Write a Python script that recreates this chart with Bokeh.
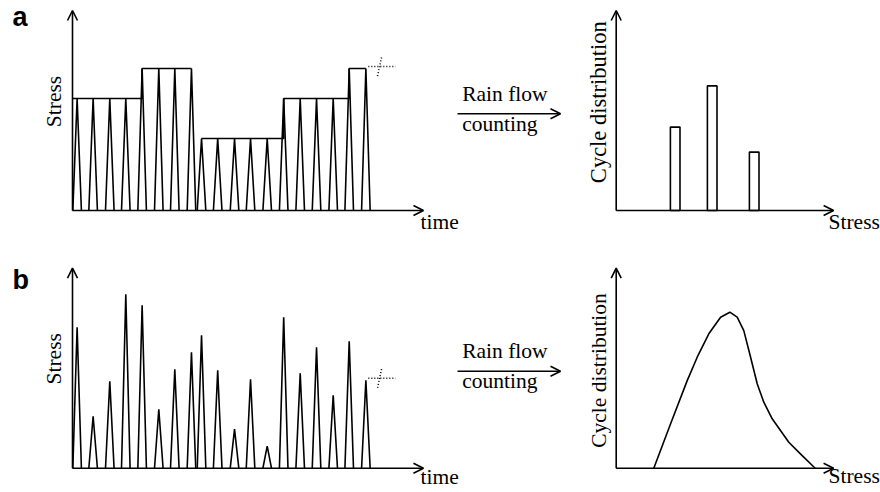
import math
from bokeh.plotting import figure
from bokeh.models import Range1d, Arrow, OpenHead, Label
from bokeh.embed import file_html
from bokeh.resources import INLINE

# ---------------- data ----------------
# time of each loading peak (same instants in a and b)
spike_time = [0.28, 1.25, 2.26, 3.23, 4.22, 5.23, 6.20, 7.21, 7.82, 8.80,
              9.82, 10.79, 11.80, 12.80, 13.80, 14.79, 15.80, 16.77, 17.78]
# a: block loading (constant amplitude blocks)
stress_a = [5.6, 5.6, 5.6, 5.6, 7.1, 7.1, 7.1, 7.1, 3.6, 3.6,
            3.6, 3.6, 3.6, 5.6, 5.6, 5.6, 5.6, 7.1, 7.1]
# b: random loading
stress_b = [7.05, 2.6, 4.35, 8.7, 8.15, 2.95, 4.95, 5.8, 6.65, 4.9,
            1.95, 4.45, 1.1, 7.55, 4.75, 6.05, 3.65, 6.35, 4.4]
# a: resulting cycle histogram
hist_stress = [2.95, 4.8, 6.9]
hist_cycles = [4.17, 6.23, 2.92]
# b: resulting cycle distribution
dist_stress = [1.88, 2.72, 3.55, 4.05, 4.63, 5.22, 5.68, 6.05, 6.38, 6.72,
               7.05, 7.38, 7.8, 8.63, 9.3, 9.95]
dist_cycles = [0.0, 2.22, 4.38, 5.55, 6.72, 7.55, 7.8, 7.55, 6.88, 5.55,
               4.22, 3.3, 2.47, 1.3, 0.63, 0.0]

# ---------------- layout ----------------
W, H = 880, 492
SERIF = "Liberation Serif"
FS = 21.5
LW = 1.6

p = figure(width=W, height=H, x_range=Range1d(0, W), y_range=Range1d(H, 0),
           output_backend="svg", toolbar_location=None,
           x_axis_location=None, y_axis_location=None, min_border=0)
p.outline_line_color = None
p.grid.visible = False
p.background_fill_color = "white"
p.border_fill_color = "white"


def xr(ox, sx):
    return Range1d(-ox / sx, (W - ox) / sx)


def yr(oy, sy):
    return Range1d(-(H - oy) / sy, oy / sy)


# origins (pixels) and scales (pixels per unit) of the four small diagrams
p.extra_x_ranges = {"ta": xr(72, 16.5), "ra": xr(615.7, 20)}
p.extra_y_ranges = {"sa": yr(210, 20), "sb": yr(467.7, 20)}

T_AXIS = 21.27
S_AXIS = 10.0
R_AXIS = 10.87
HW = 0.26  # half width of a load spike


def head():
    return OpenHead(size=10, line_width=LW, line_color="black")


def axes(xname, yname, xlen, ylen):
    for xe, ye in ((xlen, 0), (0, ylen)):
        p.add_layout(Arrow(end=head(), x_start=0, y_start=0, x_end=xe, y_end=ye,
                           x_range_name=xname, y_range_name=yname,
                           line_width=LW, line_color="black"))


def spikes(levels, yname):
    xs = [[t - HW, t, t + HW] for t in spike_time]
    ys = [[0, h, 0] for h in levels]
    p.multi_line(xs, ys, line_color="black", line_width=LW,
                 x_range_name="ta", y_range_name=yname)


def marker(yname, t, h):
    p.line([t + 0.15, t + 1.8], [h + 0.1, h + 0.1], line_dash="1 2",
           line_color="black", line_width=1.5, x_range_name="ta", y_range_name=yname)
    p.line([t + 0.95, t + 0.82, t + 0.69], [h + 0.55, h + 0.05, h - 0.45], line_dash="1 2",
           line_color="black", line_width=1.5, x_range_name="ta", y_range_name=yname)


def lab(x, y, text, size=FS, angle=0.0, align="left", font=SERIF, style="normal"):
    # place the alphabetic baseline at (x, y) in pixel coordinates
    shift = 0.38 * size
    if angle:
        x -= shift
    else:
        y -= shift
    p.add_layout(Label(x=x, y=y, text=text, text_font=font, text_font_size=f"{size}px",
                       text_color="black", angle=angle, text_align=align,
                       text_baseline="alphabetic", text_font_style=style))


# ---- a, left: block loading with envelope ----
spikes(stress_a, "sa")
segments = []
env_x, env_y = [], []
prev = None
for t, h in zip(spike_time, stress_a):
    if prev is None:
        env_x, env_y = [0.0, t], [h, h]
    elif h == prev:
        env_x.append(t); env_y.append(h)
    elif h > prev:
        env_x += [t, t]; env_y += [prev, h]
    else:
        segments.append((env_x, env_y))
        env_x, env_y = [t], [h]
    prev = h
segments.append((env_x, env_y))
p.multi_line([s[0] for s in segments], [s[1] for s in segments], line_color="black",
             line_width=LW, x_range_name="ta", y_range_name="sa")
marker("sa", spike_time[-1], stress_a[-1])
axes("ta", "sa", T_AXIS, S_AXIS)

# ---- b, left: random loading ----
spikes(stress_b, "sb")
marker("sb", spike_time[-1], stress_b[-1])
axes("ta", "sb", T_AXIS, S_AXIS)

# ---- a, right: histogram ----
p.vbar(x=hist_stress, width=0.48, top=hist_cycles, bottom=0, fill_color="white",
       line_color="black", line_width=LW, x_range_name="ra", y_range_name="sa")
axes("ra", "sa", R_AXIS, S_AXIS)

# ---- b, right: distribution curve ----
p.line(dist_stress, dist_cycles, line_color="black", line_width=LW,
       x_range_name="ra", y_range_name="sb")
axes("ra", "sb", R_AXIS, S_AXIS)

# ---- rain flow arrows ----
for ya in (113.3, 370.7):
    p.add_layout(Arrow(end=head(), x_start=457, y_start=ya, x_end=560, y_end=ya,
                       line_width=LW, line_color="black"))
    lab(461.7, ya - 11.6, "Rain flow")
    lab(461.7, ya + 18.4, "counting")

R = math.pi / 2
lab(12, 27, "a", size=27, font="Liberation Sans", style="bold")
lab(12, 290, "b", size=27, font="Liberation Sans", style="bold")
lab(62, 101, "Stress", angle=R, align="center")
lab(62, 358.3, "Stress", angle=R, align="center")
lab(420, 230, "time")
lab(420, 485, "time")
lab(607, 101.7, "Cycle distribution", size=22.5, angle=R, align="center")
lab(607, 370, "Cycle distribution", size=21.5, angle=R, align="center")
lab(828, 229.5, "Stress")
lab(828, 484, "Stress")

open("out.html", "w").write(file_html(p, INLINE))
